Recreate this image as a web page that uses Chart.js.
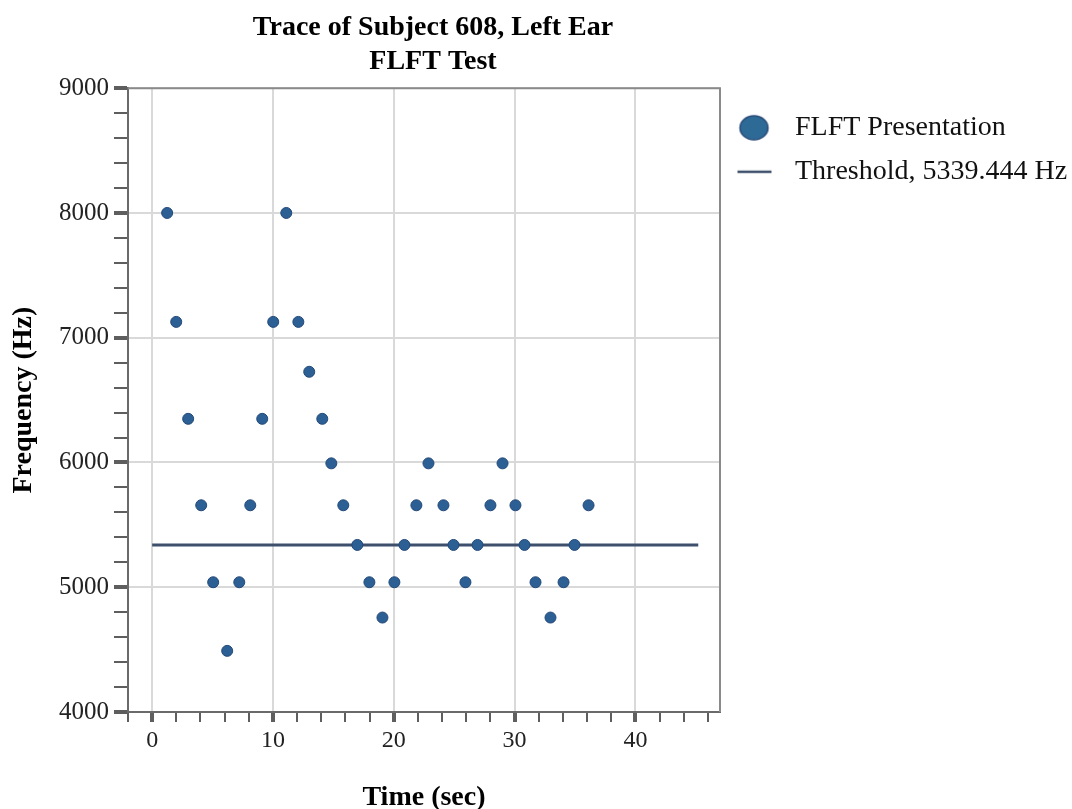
<!DOCTYPE html>
<html lang="en">
<head>
  <meta charset="UTF-8">
  <title>Trace of Subject 608, Left Ear</title>
  <script src="https://cdn.jsdelivr.net/npm/chart.js"></script>
  <style>
    body {
      margin: 0;
      background: #fff;
    }
    canvas {
      display: block;
    }
  </style>
</head>
<body>
  <canvas id="traceChart" width="1072" height="809"></canvas>

  <script>
    // presentation times (sec) and frequencies (Hz)
    const times = [1.24, 1.99, 2.98, 4.06, 5.05, 6.21, 7.21, 8.12, 9.11, 10.02, 11.1, 12.1,
      13.0, 14.08, 14.83, 15.82, 16.98, 17.98, 19.06, 20.05, 20.88, 21.87, 22.87, 24.11,
      24.94, 25.93, 26.93, 28.0, 29.0, 30.07, 30.82, 31.73, 32.97, 34.05, 34.96, 36.12];
    const freqs = [8000, 7127, 6350, 5657, 5040, 4490, 5040, 5657, 6350, 7127, 8000, 7127,
      6727, 6350, 5993, 5657, 5339, 5040, 4757, 5040, 5339, 5657, 5993, 5657,
      5339, 5040, 5339, 5657, 5993, 5657, 5339, 5040, 4757, 5040, 5339, 5657];
    const threshold = 5339.444;
    const thresholdSpan = [0, 45.2];
    const seriesNames = ['FLFT Presentation', 'Threshold, 5339.444 Hz'];

    const serif = "'Liberation Serif', 'Times New Roman', serif";
    const dotColor = '#2c5f93';
    const lineColor = '#3d4f6b';

    // legend markers
    function makeDot() {
      const c = document.createElement('canvas');
      c.width = 46; c.height = 28;
      const g = c.getContext('2d');
      g.fillStyle = '#2e6a96';
      g.strokeStyle = '#2a4a78';
      g.lineWidth = 1.5;
      g.beginPath();
      g.ellipse(18.5, 14, 14, 12, 0, 0, Math.PI * 2);
      g.fill();
      g.stroke();
      return c;
    }
    function makeDash() {
      const c = document.createElement('canvas');
      c.width = 46; c.height = 6;
      const g = c.getContext('2d');
      g.strokeStyle = lineColor;
      g.lineWidth = 2.5;
      g.beginPath();
      g.moveTo(2, 3);
      g.lineTo(36, 3);
      g.stroke();
      return c;
    }
    const legendMarks = [makeDot(), makeDash()];

    const frame = {
      id: 'frame',
      afterLayout(chart) {
        // the title sits a little right of the plot centre
        const t = chart.titleBlock;
        if (t) { t.left += 9; t.right += 9; }
      },
      beforeDatasetsDraw(chart) {
        const {ctx, chartArea: a} = chart;
        ctx.save();
        ctx.strokeStyle = '#8a8a8a';
        ctx.lineWidth = 2;
        ctx.beginPath();
        ctx.moveTo(a.left, a.top);
        ctx.lineTo(a.right, a.top);
        ctx.lineTo(a.right, a.bottom);
        ctx.stroke();
        ctx.restore();
      }
    };

    const ctx = document.getElementById('traceChart').getContext('2d');
    new Chart(ctx, {
      type: 'scatter',
      data: {
        datasets: [
          {
            label: seriesNames[0],
            data: times.map((t, i) => ({x: t, y: freqs[i]})),
            backgroundColor: dotColor,
            borderColor: '#24497a',
            borderWidth: 1,
            pointRadius: 5.5,
            pointHoverRadius: 5.5,
            order: 1
          },
          {
            type: 'line',
            label: seriesNames[1],
            data: thresholdSpan.map(t => ({x: t, y: threshold})),
            borderColor: lineColor,
            backgroundColor: lineColor,
            borderWidth: 3,
            pointRadius: 0,
            showLine: true,
            order: 2
          }
        ]
      },
      options: {
        responsive: false,
        animation: false,
        layout: {padding: 0},
        plugins: {
          title: {
            display: true,
            fullSize: false,
            text: ['Trace of Subject 608, Left Ear', 'FLFT Test'],
            color: '#000',
            font: {family: serif, size: 28, weight: 'bold', lineHeight: 1.2},
            padding: {top: 11, bottom: 10}
          },
          legend: {
            position: 'right',
            align: 'start',
            fullSize: false,
            maxWidth: 352,
            title: {
              display: true,
              text: '',
              font: {size: 8},
              padding: 0
            },
            labels: {
              usePointStyle: true,
              pointStyleWidth: 45,
              padding: 16,
              color: '#111',
              font: {family: serif, size: 28},
              generateLabels(chart) {
                const items = Chart.defaults.plugins.legend.labels.generateLabels(chart);
                items.forEach((it, i) => { it.pointStyle = legendMarks[i]; });
                return items;
              }
            }
          },
          tooltip: {enabled: false}
        },
        scales: {
          x: {
            type: 'linear',
            min: -2,
            max: 47,
            afterFit(scale) { scale.height = 97; },
            border: {color: '#6a6a6a', width: 2},
            grid: {
              color: c => (c.tick && c.tick.value % 10 === 0) ? '#d9d9d9' : 'rgba(0,0,0,0)',
              lineWidth: 2,
              tickLength: 10,
              tickColor: '#5e5e5e',
              tickWidth: c => (c.tick && c.tick.value % 10 === 0) ? 4 : 2
            },
            ticks: {
              stepSize: 2,
              includeBounds: false,
              autoSkip: false,
              maxRotation: 0,
              maxTicksLimit: 100,
              padding: 4,
              color: '#222',
              font: {family: serif, size: 24},
              callback: v => v % 10 === 0 ? v : ''
            },
            title: {
              display: true,
              text: 'Time (sec)',
              color: '#000',
              font: {family: serif, size: 28, weight: 'bold', lineHeight: 0.8},
              padding: 0
            }
          },
          y: {
            min: 4000,
            max: 9000,
            afterFit(scale) { scale.width = 128; },
            border: {color: '#6a6a6a', width: 2},
            grid: {
              color: c => (c.tick && c.tick.value % 1000 === 0) ? '#d9d9d9' : 'rgba(0,0,0,0)',
              lineWidth: 2,
              tickLength: 14,
              tickColor: '#5e5e5e',
              tickWidth: c => (c.tick && c.tick.value % 1000 === 0) ? 4 : 2
            },
            ticks: {
              stepSize: 200,
              autoSkip: false,
              maxTicksLimit: 100,
              padding: 5,
              color: '#222',
              font: {family: serif, size: 25},
              callback: v => v % 1000 === 0 ? v : ''
            },
            title: {
              display: true,
              text: 'Frequency (Hz)',
              color: '#000',
              font: {family: serif, size: 28, weight: 'bold', lineHeight: 1.2},
              padding: {top: 7, bottom: 0}
            }
          }
        }
      },
      plugins: [frame]
    });
  </script>
</body>
</html>
